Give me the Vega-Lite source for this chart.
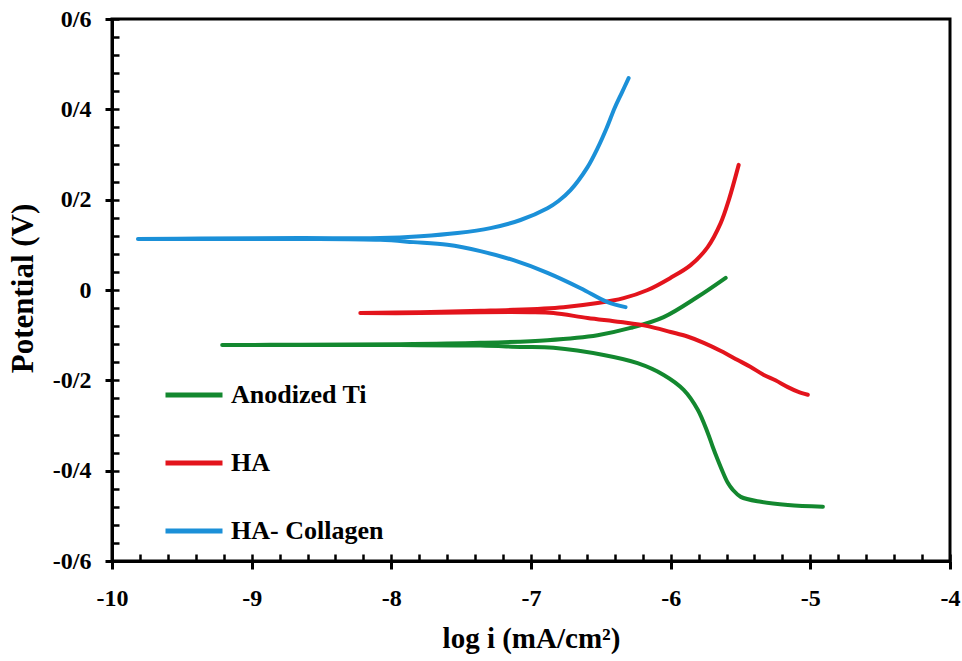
{
  "$schema": "https://vega.github.io/schema/vega-lite/v6.json",
  "width": 838,
  "height": 542,
  "autosize": {"type": "none"},
  "padding": {"left": 112, "top": 19, "right": 12, "bottom": 100},
  "background": "white",
  "config": {"view": {"stroke": "black", "strokeWidth": 3}, "font": "Liberation Serif"},
  "data": {"values": [
    {"series": "Anodized Ti", "order": 1, "log_i": -4.910, "potential": -0.480},
    {"series": "Anodized Ti", "order": 2, "log_i": -5.161, "potential": -0.476},
    {"series": "Anodized Ti", "order": 3, "log_i": -5.355, "potential": -0.469},
    {"series": "Anodized Ti", "order": 4, "log_i": -5.498, "potential": -0.458},
    {"series": "Anodized Ti", "order": 5, "log_i": -5.556, "potential": -0.442},
    {"series": "Anodized Ti", "order": 6, "log_i": -5.591, "potential": -0.427},
    {"series": "Anodized Ti", "order": 7, "log_i": -5.627, "potential": -0.403},
    {"series": "Anodized Ti", "order": 8, "log_i": -5.663, "potential": -0.376},
    {"series": "Anodized Ti", "order": 9, "log_i": -5.699, "potential": -0.347},
    {"series": "Anodized Ti", "order": 10, "log_i": -5.735, "potential": -0.316},
    {"series": "Anodized Ti", "order": 11, "log_i": -5.806, "potential": -0.265},
    {"series": "Anodized Ti", "order": 12, "log_i": -5.907, "potential": -0.221},
    {"series": "Anodized Ti", "order": 13, "log_i": -6.050, "potential": -0.188},
    {"series": "Anodized Ti", "order": 14, "log_i": -6.237, "potential": -0.162},
    {"series": "Anodized Ti", "order": 15, "log_i": -6.480, "potential": -0.144},
    {"series": "Anodized Ti", "order": 16, "log_i": -6.839, "potential": -0.128},
    {"series": "Anodized Ti", "order": 17, "log_i": -7.075, "potential": -0.126},
    {"series": "Anodized Ti", "order": 18, "log_i": -7.362, "potential": -0.123},
    {"series": "Anodized Ti", "order": 19, "log_i": -7.935, "potential": -0.122},
    {"series": "Anodized Ti", "order": 20, "log_i": -8.652, "potential": -0.122},
    {"series": "Anodized Ti", "order": 21, "log_i": -9.211, "potential": -0.122},
    {"series": "Anodized Ti", "order": 22, "log_i": -8.652, "potential": -0.121},
    {"series": "Anodized Ti", "order": 23, "log_i": -7.935, "potential": -0.120},
    {"series": "Anodized Ti", "order": 24, "log_i": -7.362, "potential": -0.117},
    {"series": "Anodized Ti", "order": 25, "log_i": -6.882, "potential": -0.111},
    {"series": "Anodized Ti", "order": 26, "log_i": -6.523, "potential": -0.100},
    {"series": "Anodized Ti", "order": 27, "log_i": -6.287, "potential": -0.084},
    {"series": "Anodized Ti", "order": 28, "log_i": -6.050, "potential": -0.060},
    {"series": "Anodized Ti", "order": 29, "log_i": -5.806, "potential": -0.015},
    {"series": "Anodized Ti", "order": 30, "log_i": -5.606, "potential": 0.027},

    {"series": "HA", "order": 1, "log_i": -5.018, "potential": -0.232},
    {"series": "HA", "order": 2, "log_i": -5.090, "potential": -0.225},
    {"series": "HA", "order": 3, "log_i": -5.161, "potential": -0.215},
    {"series": "HA", "order": 4, "log_i": -5.250, "potential": -0.200},
    {"series": "HA", "order": 5, "log_i": -5.333, "potential": -0.188},
    {"series": "HA", "order": 6, "log_i": -5.430, "potential": -0.170},
    {"series": "HA", "order": 7, "log_i": -5.520, "potential": -0.155},
    {"series": "HA", "order": 8, "log_i": -5.640, "potential": -0.135},
    {"series": "HA", "order": 9, "log_i": -5.763, "potential": -0.117},
    {"series": "HA", "order": 10, "log_i": -5.880, "potential": -0.103},
    {"series": "HA", "order": 11, "log_i": -6.000, "potential": -0.093},
    {"series": "HA", "order": 12, "log_i": -6.165, "potential": -0.080},
    {"series": "HA", "order": 13, "log_i": -6.358, "potential": -0.071},
    {"series": "HA", "order": 14, "log_i": -6.595, "potential": -0.062},
    {"series": "HA", "order": 15, "log_i": -6.839, "potential": -0.051},
    {"series": "HA", "order": 16, "log_i": -7.004, "potential": -0.049},
    {"series": "HA", "order": 17, "log_i": -7.362, "potential": -0.049},
    {"series": "HA", "order": 18, "log_i": -7.792, "potential": -0.051},
    {"series": "HA", "order": 19, "log_i": -8.222, "potential": -0.051},
    {"series": "HA", "order": 20, "log_i": -7.792, "potential": -0.049},
    {"series": "HA", "order": 21, "log_i": -7.362, "potential": -0.046},
    {"series": "HA", "order": 22, "log_i": -7.125, "potential": -0.044},
    {"series": "HA", "order": 23, "log_i": -6.767, "potential": -0.038},
    {"series": "HA", "order": 24, "log_i": -6.523, "potential": -0.029},
    {"series": "HA", "order": 25, "log_i": -6.337, "potential": -0.018},
    {"series": "HA", "order": 26, "log_i": -6.165, "potential": 0.000},
    {"series": "HA", "order": 27, "log_i": -6.000, "potential": 0.027},
    {"series": "HA", "order": 28, "log_i": -5.857, "potential": 0.055},
    {"series": "HA", "order": 29, "log_i": -5.735, "potential": 0.095},
    {"series": "HA", "order": 30, "log_i": -5.642, "potential": 0.148},
    {"series": "HA", "order": 31, "log_i": -5.584, "potential": 0.199},
    {"series": "HA", "order": 32, "log_i": -5.513, "potential": 0.277},

    {"series": "HA- Collagen", "order": 1, "log_i": -6.323, "potential": -0.038},
    {"series": "HA- Collagen", "order": 2, "log_i": -6.452, "potential": -0.027},
    {"series": "HA- Collagen", "order": 3, "log_i": -6.645, "potential": 0.004},
    {"series": "HA- Collagen", "order": 4, "log_i": -6.882, "potential": 0.038},
    {"series": "HA- Collagen", "order": 5, "log_i": -7.125, "potential": 0.066},
    {"series": "HA- Collagen", "order": 6, "log_i": -7.362, "potential": 0.086},
    {"series": "HA- Collagen", "order": 7, "log_i": -7.599, "potential": 0.100},
    {"series": "HA- Collagen", "order": 8, "log_i": -7.842, "potential": 0.106},
    {"series": "HA- Collagen", "order": 9, "log_i": -8.079, "potential": 0.111},
    {"series": "HA- Collagen", "order": 10, "log_i": -8.652, "potential": 0.113},
    {"series": "HA- Collagen", "order": 11, "log_i": -9.369, "potential": 0.113},
    {"series": "HA- Collagen", "order": 12, "log_i": -9.814, "potential": 0.113},
    {"series": "HA- Collagen", "order": 13, "log_i": -9.369, "potential": 0.114},
    {"series": "HA- Collagen", "order": 14, "log_i": -8.652, "potential": 0.115},
    {"series": "HA- Collagen", "order": 15, "log_i": -8.079, "potential": 0.115},
    {"series": "HA- Collagen", "order": 16, "log_i": -7.792, "potential": 0.119},
    {"series": "HA- Collagen", "order": 17, "log_i": -7.527, "potential": 0.126},
    {"series": "HA- Collagen", "order": 18, "log_i": -7.290, "potential": 0.137},
    {"series": "HA- Collagen", "order": 19, "log_i": -7.075, "potential": 0.155},
    {"series": "HA- Collagen", "order": 20, "log_i": -6.882, "potential": 0.181},
    {"series": "HA- Collagen", "order": 21, "log_i": -6.803, "potential": 0.197},
    {"series": "HA- Collagen", "order": 22, "log_i": -6.717, "potential": 0.221},
    {"series": "HA- Collagen", "order": 23, "log_i": -6.595, "potential": 0.272},
    {"series": "HA- Collagen", "order": 24, "log_i": -6.523, "potential": 0.314},
    {"series": "HA- Collagen", "order": 25, "log_i": -6.459, "potential": 0.358},
    {"series": "HA- Collagen", "order": 26, "log_i": -6.401, "potential": 0.403},
    {"series": "HA- Collagen", "order": 27, "log_i": -6.351, "potential": 0.436},
    {"series": "HA- Collagen", "order": 28, "log_i": -6.301, "potential": 0.469}
  ]},
  "layer": [
    {
      "mark": {"type": "line", "strokeWidth": 4, "strokeCap": "round", "strokeJoin": "round", "interpolate": "catmull-rom"},
      "encoding": {
        "x": {
          "field": "log_i", "type": "quantitative",
          "scale": {"domain": [-10, -4], "nice": false, "zero": false},
          "axis": {
            "orient": "bottom", "grid": false,
            "values": [-10, -9, -8, -7, -6, -5, -4],
            "tickSize": 8, "tickWidth": 3, "tickColor": "black",
            "domainColor": "black", "domainWidth": 3,
            "labelFont": "Liberation Serif", "labelFontSize": 24, "labelFontWeight": "bold", "labelColor": "black",
            "labelBaseline": "alphabetic", "labelPadding": 36, "labelFlush": false, "labelOverlap": false,
            "labelExpr": "replace(format(datum.value, 'd'), '\u2212', '-')",
            "title": "log i (mA/cm²)", "titleFont": "Liberation Serif", "titleFontSize": 29, "titleFontWeight": "bold",
            "titleColor": "black", "titleBaseline": "alphabetic", "titleY": 86
          }
        },
        "y": {
          "field": "potential", "type": "quantitative",
          "scale": {"domain": [-0.6, 0.6], "nice": false, "zero": false},
          "axis": {
            "orient": "left", "grid": false,
            "values": [-0.6, -0.4, -0.2, 0, 0.2, 0.4, 0.6],
            "tickSize": 7, "tickWidth": 3, "tickColor": "black",
            "domainColor": "black", "domainWidth": 3,
            "labelFont": "Liberation Serif", "labelFontSize": 24, "labelFontWeight": "bold", "labelColor": "black",
            "labelPadding": 14, "labelFlush": false, "labelOverlap": false, "labelBaseline": "middle",
            "labelExpr": "datum.value == 0 ? '0' : replace(replace(format(datum.value, '.1f'), '.', '/'), '\u2212', '-')",
            "title": "Potential (V)", "titleFont": "Liberation Serif", "titleFontSize": 31, "titleFontWeight": "bold",
            "titleColor": "black", "titleBaseline": "alphabetic", "titleX": -80, "titleY": 269
          }
        },
        "color": {
          "field": "series", "type": "nominal",
          "scale": {"domain": ["Anodized Ti", "HA", "HA- Collagen"], "range": ["#13882f", "#e3141c", "#1b90d8"]},
          "legend": {
            "orient": "none", "legendX": 51, "legendY": 345, "padding": 0,
            "title": null, "symbolType": "stroke", "symbolSize": 3249, "symbolStrokeWidth": 5,
            "labelFont": "Liberation Serif", "labelFontSize": 26, "labelFontWeight": "bold", "labelColor": "black",
            "labelOffset": 6, "rowPadding": 24, "labelLimit": 400
          }
        },
        "order": {"field": "order", "type": "quantitative"}
      }
    },
    {
      "mark": {"type": "point", "opacity": 0},
      "encoding": {
        "x": {
          "field": "log_i", "type": "quantitative",
          "axis": {
            "orient": "bottom", "grid": false, "domain": false, "labels": false, "title": null,
            "values": [-10, -9.8, -9.6, -9.4, -9.2, -9, -8.8, -8.6, -8.4, -8.2, -8, -7.8, -7.6, -7.4, -7.2, -7, -6.8, -6.6, -6.4, -6.2, -6, -5.8, -5.6, -5.4, -5.2, -5, -4.8, -4.6, -4.4, -4.2, -4],
            "tickSize": -7, "tickWidth": 2.5, "tickColor": "black"
          }
        },
        "y": {
          "field": "potential", "type": "quantitative",
          "axis": {
            "orient": "left", "grid": false, "domain": false, "labels": false, "title": null,
            "values": [-0.6, -0.56, -0.52, -0.48, -0.44, -0.4, -0.36, -0.32, -0.28, -0.24, -0.2, -0.16, -0.12, -0.08, -0.04, 0, 0.04, 0.08, 0.12, 0.16, 0.2, 0.24, 0.28, 0.32, 0.36, 0.4, 0.44, 0.48, 0.52, 0.56, 0.6],
            "tickSize": -7, "tickWidth": 2.5, "tickColor": "black"
          }
        }
      }
    }
  ],
  "resolve": {"axis": {"x": "independent", "y": "independent"}}
}
